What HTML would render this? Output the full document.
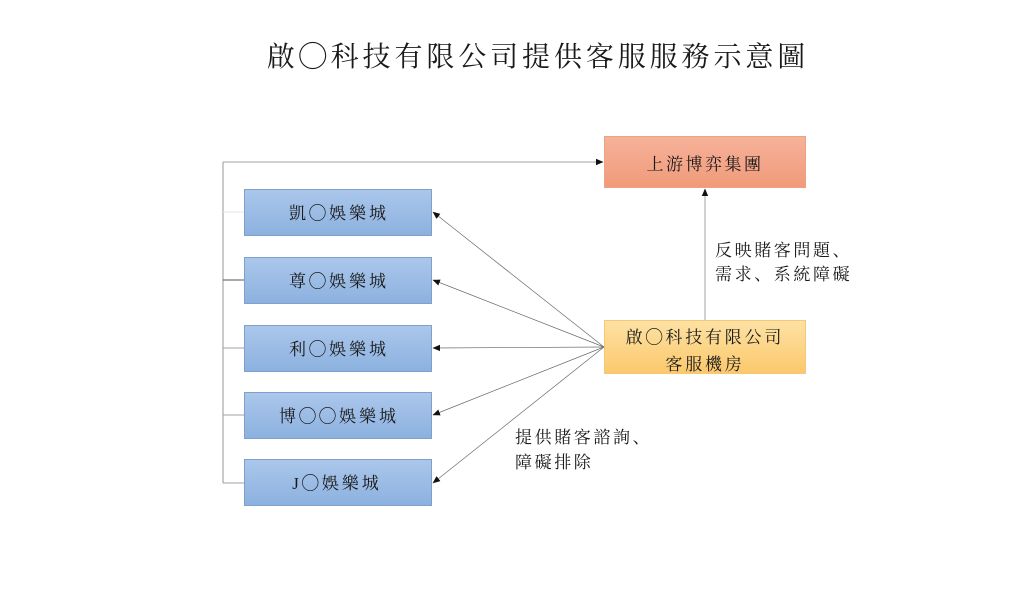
<!DOCTYPE html>
<html>
<head>
<meta charset="utf-8">
<style>
html,body{margin:0;padding:0;background:#fff;}
svg{display:block;}
text{font-family:"Liberation Serif","Noto Serif CJK SC",serif;fill:#1a1a1a;}
</style>
</head>
<body>
<svg width="1031" height="590" viewBox="0 0 1031 590" xmlns="http://www.w3.org/2000/svg">
<defs>
<linearGradient id="gb" x1="0" y1="0" x2="0" y2="1">
<stop offset="0" stop-color="#abc7eb"/>
<stop offset="1" stop-color="#8cb1df"/>
</linearGradient>
<linearGradient id="gs" x1="0" y1="0" x2="0" y2="1">
<stop offset="0" stop-color="#f6b29a"/>
<stop offset="1" stop-color="#f19a7a"/>
</linearGradient>
<linearGradient id="go" x1="0" y1="0" x2="0" y2="1">
<stop offset="0" stop-color="#fde2a4"/>
<stop offset="1" stop-color="#fbc86c"/>
</linearGradient>
<marker id="ah" markerWidth="8" markerHeight="8" refX="7" refY="4" orient="auto" markerUnits="userSpaceOnUse">
<path d="M0,0.8 L7.5,4 L0,7.2 Z" fill="#111"/>
</marker>
</defs>

<!-- Title -->
<text x="538" y="66" font-size="28" text-anchor="middle" letter-spacing="3.9">啟◯科技有限公司提供客服服務示意圖</text>

<!-- left bracket -->
<path d="M223,162 L223,483" stroke="#a0a0a0" stroke-width="1.1" fill="none"/>
<path d="M223,162 L603,162" stroke="#a0a0a0" stroke-width="1.1" fill="none" marker-end="url(#ah)"/>
<line x1="223" y1="212" x2="244" y2="212" stroke="#e6e6e6" stroke-width="1"/>
<line x1="223" y1="280" x2="244" y2="280" stroke="#555" stroke-width="1"/>
<line x1="223" y1="348" x2="244" y2="348" stroke="#a0a0a0" stroke-width="1"/>
<line x1="223" y1="415" x2="244" y2="415" stroke="#a0a0a0" stroke-width="1"/>
<line x1="223" y1="483" x2="244" y2="483" stroke="#a0a0a0" stroke-width="1"/>

<!-- boxes -->
<rect x="604.5" y="136.5" width="201" height="51" fill="url(#gs)" stroke="#eda283" stroke-width="1"/>
<text x="705" y="170" font-size="17" text-anchor="middle" letter-spacing="2.5">上游博弈集團</text>

<rect x="604.5" y="320.5" width="201" height="53" fill="url(#go)" stroke="#f6c873" stroke-width="1"/>
<text x="705" y="343" font-size="17" text-anchor="middle" letter-spacing="2.8">啟◯科技有限公司</text>
<text x="705" y="370" font-size="17" text-anchor="middle" letter-spacing="2.8">客服機房</text>

<g stroke="#7f9fcc" stroke-width="1" fill="url(#gb)">
<rect x="244.5" y="189.5" width="187" height="46"/>
<rect x="244.5" y="257.5" width="187" height="46"/>
<rect x="244.5" y="325.5" width="187" height="46"/>
<rect x="244.5" y="392.5" width="187" height="46"/>
<rect x="244.5" y="459.5" width="187" height="46"/>
</g>
<g font-size="17" text-anchor="middle" letter-spacing="3">
<text x="339" y="219">凱◯娛樂城</text>
<text x="339" y="287">尊◯娛樂城</text>
<text x="339" y="355">利◯娛樂城</text>
<text x="339" y="422">博◯◯娛樂城</text>
<text x="337" y="489">J◯娛樂城</text>
</g>

<!-- vertical arrow -->
<path d="M705,320 L705,189" stroke="#b4b4b4" stroke-width="1.2" fill="none" marker-end="url(#ah)"/>

<!-- fan arrows -->
<g stroke="#6a6a6a" stroke-width="0.7" fill="none" marker-end="url(#ah)">
<path d="M604,347 L433,212"/>
<path d="M604,347 L433,280"/>
<path d="M604,347 L433,348"/>
<path d="M604,347 L433,415"/>
<path d="M604,347 L433,483"/>
</g>

<!-- labels -->
<g font-size="17" letter-spacing="2.6">
<text x="715" y="256">反映賭客問題、</text>
<text x="715" y="280">需求、系統障礙</text>
<text x="515" y="443">提供賭客諮詢、</text>
<text x="515" y="468">障礙排除</text>
</g>
</svg>
</body>
</html>
